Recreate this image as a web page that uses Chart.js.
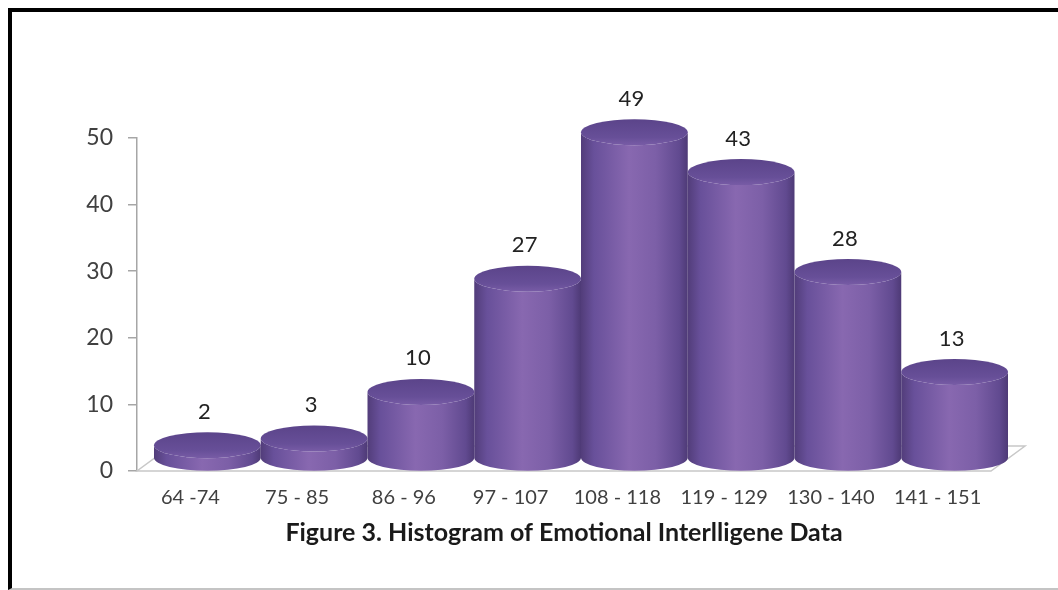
<!DOCTYPE html>
<html>
<head>
<meta charset="utf-8">
<script src="https://cdn.jsdelivr.net/npm/chart.js@4.4.1/dist/chart.umd.min.js"></script>
<style>
  html, body { margin: 0; padding: 0; background: #fff; }
  #wrap { position: relative; width: 1058px; height: 590px; overflow: hidden; }
  #frame { position: absolute; left: 8px; top: 8px; right: -10px; bottom: 0; border-left: 4px solid #000; border-top: 4px solid #000; border-bottom: 2px solid #c4c4c4; }
  #box { position: absolute; left: 0; top: 0; width: 1058px; height: 590px; }
</style>
</head>
<body>
<div id="wrap">
  <div id="frame"></div>
  <div id="box"><canvas id="myChart"></canvas></div>
</div>
<script>
// histogram data
const categories = ["64 -74", "75 - 85", "86 - 96", "97 - 107", "108 - 118", "119 - 129", "130 - 140", "141 - 151"];
const frequencies = [2, 3, 10, 27, 49, 43, 28, 13];
const yTicks = [0, 10, 20, 30, 40, 50];
const chartTitle = "Figure 3. Histogram of Emotional Interlligene Data";

// 3D look: depth of the floor and height of the cylinder ellipses
const DEPTH_X = 34;
const DEPTH_Y = 25;
const RY = 13;

Chart.defaults.font.family = "Lato";

/**
 * Draws the floor and the cylinders on top of the (invisible) bars.
 */
const cylinderPlugin = {
  id: "cylinders",
  beforeDatasetsDraw(chart) {
    const { ctx, chartArea } = chart;
    const y0 = chart.scales.y.getPixelForValue(0);
    ctx.save();
    ctx.strokeStyle = "#c8c8c8";
    ctx.lineWidth = 1.5;
    ctx.beginPath();
    ctx.moveTo(chartArea.left, y0);
    ctx.lineTo(chartArea.right, y0);
    ctx.lineTo(chartArea.right + DEPTH_X, y0 - DEPTH_Y);
    ctx.lineTo(chartArea.left + DEPTH_X, y0 - DEPTH_Y);
    ctx.closePath();
    ctx.stroke();
    ctx.restore();
  },
  afterDatasetsDraw(chart) {
    const ctx = chart.ctx;
    const meta = chart.getDatasetMeta(0);
    ctx.save();
    meta.data.forEach((bar, i) => {
      const cx = bar.x + DEPTH_X / 2;
      const rx = bar.width / 2;
      const top = bar.y - DEPTH_Y / 2;
      const bot = bar.base - DEPTH_Y / 2;

      // body of the cylinder
      const g = ctx.createLinearGradient(cx - rx, 0, cx + rx, 0);
      g.addColorStop(0, "#523d7a");
      g.addColorStop(0.12, "#68509a");
      g.addColorStop(0.45, "#8868b0");
      g.addColorStop(0.7, "#7c5fa7");
      g.addColorStop(0.92, "#614a90");
      g.addColorStop(1, "#4e3a76");
      ctx.beginPath();
      ctx.moveTo(cx - rx, top);
      ctx.lineTo(cx - rx, bot);
      ctx.ellipse(cx, bot, rx, RY, 0, Math.PI, 0, true);
      ctx.lineTo(cx + rx, top);
      ctx.ellipse(cx, top, rx, RY, 0, 0, Math.PI, false);
      ctx.closePath();
      ctx.fillStyle = g;
      ctx.fill();

      // top cap
      const t = ctx.createLinearGradient(0, top - RY, 0, top + RY);
      t.addColorStop(0, "#5b448a");
      t.addColorStop(0.7, "#674f98");
      t.addColorStop(1, "#785ca6");
      ctx.beginPath();
      ctx.ellipse(cx, top, rx, RY, 0, 0, Math.PI * 2);
      ctx.fillStyle = t;
      ctx.fill();

      // value label
      ctx.fillStyle = "#222";
      ctx.font = "22px Lato";
      ctx.textAlign = "center";
      ctx.textBaseline = "middle";
      ctx.fillText(String(frequencies[i]), cx - 3, bar.y - 46);
    });
    ctx.restore();
  }
};

const ctx = document.getElementById("myChart").getContext("2d");

new Chart(ctx, {
  type: "bar",
  data: {
    labels: categories,
    datasets: [{
      data: frequencies,
      backgroundColor: "rgba(0,0,0,0)",
      borderWidth: 0,
      barPercentage: 1,
      categoryPercentage: 1
    }]
  },
  options: {
    responsive: true,
    maintainAspectRatio: false,
    animation: false,
    layout: { padding: { top: 138, right: 67, left: 0, bottom: 0 } },
    plugins: {
      legend: { display: false },
      tooltip: { enabled: false }
    },
    scales: {
      x: {
        grid: { display: false, drawTicks: false },
        border: { display: false },
        ticks: {
          color: "#404040",
          font: { size: 20 },
          padding: 15,
          maxRotation: 0,
          autoSkip: false
        },
        title: {
          display: true,
          text: chartTitle,
          color: "#1a1a1a",
          font: { size: 25, weight: "bold" },
          padding: { top: 0, bottom: 42 }
        },
        afterFit: scale => { scale.height = 119; }
      },
      y: {
        min: 0,
        max: 50,
        afterBuildTicks: axis => { axis.ticks = yTicks.map(v => ({ value: v })); },
        grid: { drawOnChartArea: false, tickLength: 9, color: "#a6a6a6", lineWidth: 1.5 },
        border: { display: true, color: "#a6a6a6", width: 1.5 },
        ticks: { color: "#404040", font: { size: 23 }, padding: 15 },
        afterFit: scale => { scale.width = 137; }
      }
    }
  },
  plugins: [cylinderPlugin]
});
</script>
</body>
</html>
